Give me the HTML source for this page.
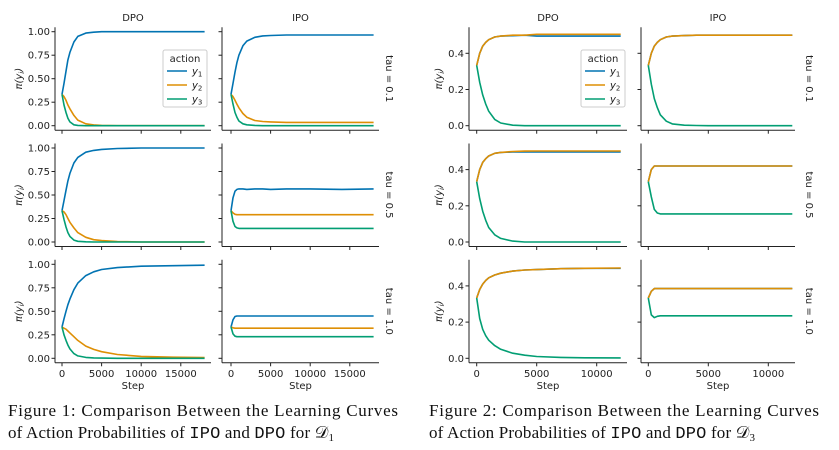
<!DOCTYPE html>
<html><head><meta charset="utf-8"><style>
body{margin:0;background:#fff;width:839px;height:450px;overflow:hidden}
svg{display:block}
text{font-family:"DejaVu Sans","Liberation Sans",sans-serif;fill:#222}
.cap{font-family:"Liberation Serif",serif;font-size:17px;fill:#111}
.mono{font-family:"Liberation Mono",monospace}
</style></head><body>
<svg id="fig" width="839" height="450" xmlns="http://www.w3.org/2000/svg">
<text class="cap" x="8" y="416" textLength="390" lengthAdjust="spacing">Figure 1:  Comparison Between the Learning Curves</text>
<text class="cap" x="8" y="438" textLength="326" lengthAdjust="spacing">of Action Probabilities of <tspan class="mono">IPO</tspan> and <tspan class="mono">DPO</tspan> for 𝒟<tspan font-size="11" dy="3">1</tspan></text>
<text class="cap" x="429" y="416" textLength="390" lengthAdjust="spacing">Figure 2:  Comparison Between the Learning Curves</text>
<text class="cap" x="429" y="438" textLength="326" lengthAdjust="spacing">of Action Probabilities of <tspan class="mono">IPO</tspan> and <tspan class="mono">DPO</tspan> for 𝒟<tspan font-size="11" dy="3">3</tspan></text>
</svg>
<script>
// ---------- data ----------
const steps1 = [0,250,500,750,1000,1500,2000,3000,4000,5000,7000,10000,14000,18000];
const steps3 = [0,250,500,750,1000,1500,2000,3000,4000,5000,7000,9000,12000];
const fig1_dpo_t01_y1=[.333,.45,.58,.70,.78,.89,.95,.985,.995,1,1,1,1,1];
const fig1_dpo_t01_y2=[.333,.31,.27,.22,.18,.11,.06,.02,.008,.003,0,0,0,0];
const fig1_dpo_t01_y3=[.333,.22,.14,.08,.04,.01,.003,0,0,0,0,0,0,0];
const fig1_ipo_t01_y1=[.333,.45,.57,.67,.75,.85,.90,.94,.955,.96,.965,.965,.965,.965];
const fig1_ipo_t01_y2=[.333,.31,.27,.23,.19,.13,.09,.055,.045,.04,.035,.035,.035,.035];
const fig1_ipo_t01_y3=[.333,.23,.14,.09,.05,.02,.01,.003,0,0,0,0,0,0];
const fig1_dpo_t05_y1=[.333,.44,.55,.65,.73,.84,.90,.955,.975,.985,.995,1,1,1];
const fig1_dpo_t05_y2=[.333,.32,.29,.25,.21,.15,.10,.05,.025,.015,.005,0,0,0];
const fig1_dpo_t05_y3=[.333,.24,.16,.10,.06,.02,.007,.002,0,0,0,0,0,0];
const fig1_ipo_t05_y1=[.333,.47,.54,.56,.565,.565,.56,.565,.565,.56,.565,.565,.56,.565];
const fig1_ipo_t05_y2=[.333,.31,.295,.29,.29,.29,.29,.29,.29,.29,.29,.29,.29,.29];
const fig1_ipo_t05_y3=[.333,.22,.165,.15,.145,.145,.145,.145,.145,.145,.145,.145,.145,.145];
const fig1_dpo_t10_y1=[.333,.42,.50,.57,.63,.73,.80,.88,.92,.945,.965,.98,.985,.99];
const fig1_dpo_t10_y2=[.333,.32,.31,.29,.27,.23,.19,.13,.095,.07,.04,.02,.012,.008];
const fig1_dpo_t10_y3=[.333,.25,.19,.14,.10,.05,.025,.01,.004,.002,0,0,0,0];
const fig1_ipo_t10_y1=[.333,.41,.445,.45,.45,.45,.45,.45,.45,.45,.45,.45,.45,.45];
const fig1_ipo_t10_y2=[.333,.325,.32,.32,.32,.32,.32,.32,.32,.32,.32,.32,.32,.32];
const fig1_ipo_t10_y3=[.333,.26,.235,.23,.23,.23,.23,.23,.23,.23,.23,.23,.23,.23];
const fig3_dpo_t01_y1=[.333,.40,.44,.46,.475,.49,.495,.497,.5,.495,.495,.495,.495];
const fig3_dpo_t01_y2=[.333,.40,.44,.46,.475,.49,.495,.5,.5,.505,.505,.505,.505];
const fig3_dpo_t01_y3=[.333,.24,.17,.12,.08,.035,.015,.003,0,0,0,0,0];
const fig3_ipo_t01_y1=[.333,.40,.44,.46,.475,.49,.495,.498,.5,.5,.5,.5,.5];
const fig3_ipo_t01_y2=[.333,.40,.44,.46,.475,.49,.495,.498,.5,.5,.5,.5,.5];
const fig3_ipo_t01_y3=[.333,.23,.15,.10,.06,.025,.01,.003,.001,0,0,0,0];
const fig3_dpo_t05_y1=[.333,.40,.44,.46,.475,.49,.495,.497,.497,.497,.497,.497,.497];
const fig3_dpo_t05_y2=[.333,.40,.44,.46,.475,.49,.495,.5,.502,.503,.503,.503,.503];
const fig3_dpo_t05_y3=[.333,.24,.17,.12,.08,.04,.02,.005,0,0,0,0,0];
const fig3_ipo_t05_y1=[.333,.40,.42,.42,.42,.42,.42,.42,.42,.42,.42,.42,.42];
const fig3_ipo_t05_y2=[.333,.40,.42,.42,.42,.42,.42,.42,.42,.42,.42,.42,.42];
const fig3_ipo_t05_y3=[.333,.25,.18,.16,.155,.155,.155,.155,.155,.155,.155,.155,.155];
const fig3_dpo_t10_y1=[.333,.38,.41,.43,.445,.46,.47,.482,.488,.49,.495,.497,.497];
const fig3_dpo_t10_y2=[.333,.38,.41,.43,.445,.46,.47,.482,.488,.49,.495,.497,.499];
const fig3_dpo_t10_y3=[.333,.22,.16,.125,.10,.07,.05,.028,.017,.01,.005,.003,.002];
const fig3_ipo_t10_y1=[.333,.37,.385,.385,.385,.385,.385,.385,.385,.385,.385,.385,.385];
const fig3_ipo_t10_y2=[.333,.37,.385,.385,.385,.385,.385,.385,.385,.385,.385,.385,.385];
const fig3_ipo_t10_y3=[.333,.24,.225,.232,.235,.235,.235,.235,.235,.235,.235,.235,.235];
const yTicks1=[0,0.25,0.5,0.75,1.0];
const yTickLabels1=["0.00","0.25","0.50","0.75","1.00"];
const yTicks3=[0,0.2,0.4];
const yTickLabels3=["0.0","0.2","0.4"];
const xTicks1=[0,5000,10000,15000];
const xTicks3=[0,5000,10000];
const tauLabels=["tau = 0.1","tau = 0.5","tau = 1.0"];
const colTitles=["DPO","IPO"];
const colors=["#0173b2","#de8f05","#029e73"];

const NS="http://www.w3.org/2000/svg";
const svg=document.getElementById('fig');
function el(tag,attrs,parent){const e=document.createElementNS(NS,tag);for(const k in attrs)e.setAttribute(k,attrs[k]);(parent||svg).appendChild(e);return e;}

const figs=[
 {id:'fig1',steps:steps1,x0s:[62,231],pxStep:39.6/5000,pxUnit:94,spL:[55,222],spR:[211,379],xTicks:xTicks1,yT:yTicks1,yL:yTickLabels1,tauX:386,ylabX:18,
  data:[[fig1_dpo_t01_y1,fig1_dpo_t01_y2,fig1_dpo_t01_y3],[fig1_ipo_t01_y1,fig1_ipo_t01_y2,fig1_ipo_t01_y3],
        [fig1_dpo_t05_y1,fig1_dpo_t05_y2,fig1_dpo_t05_y3],[fig1_ipo_t05_y1,fig1_ipo_t05_y2,fig1_ipo_t05_y3],
        [fig1_dpo_t10_y1,fig1_dpo_t10_y2,fig1_dpo_t10_y3],[fig1_ipo_t10_y1,fig1_ipo_t10_y2,fig1_ipo_t10_y3]],legX:163},
 {id:'fig3',steps:steps3,x0s:[476.7,648.3],pxStep:60/5000,pxUnit:181,spL:[469,641],spR:[627,795],xTicks:xTicks3,yT:yTicks3,yL:yTickLabels3,tauX:806,ylabX:438,
  data:[[fig3_dpo_t01_y1,fig3_dpo_t01_y2,fig3_dpo_t01_y3],[fig3_ipo_t01_y1,fig3_ipo_t01_y2,fig3_ipo_t01_y3],
        [fig3_dpo_t05_y1,fig3_dpo_t05_y2,fig3_dpo_t05_y3],[fig3_ipo_t05_y1,fig3_ipo_t05_y2,fig3_ipo_t05_y3],
        [fig3_dpo_t10_y1,fig3_dpo_t10_y2,fig3_dpo_t10_y3],[fig3_ipo_t10_y1,fig3_ipo_t10_y2,fig3_ipo_t10_y3]],legX:581}
];
const zeroYs=[125.7,242,358.3];

figs.forEach(f=>{
 for(let r=0;r<3;r++){
  const z=zeroYs[r];
  const yS=v=>z-v*f.pxUnit;
  for(let c=0;c<2;c++){
   const g=el('g',{});
   
   
   const xS=s=>f.x0s[c]+s*f.pxStep;
   const L=f.spL[c],R=f.spR[c],top=z-98.5,bot=z+4.5;
   el('line',{x1:L,y1:top,x2:L,y2:bot,stroke:'#222','stroke-width':1},g);
   el('line',{x1:L,y1:bot,x2:R,y2:bot,stroke:'#222','stroke-width':1},g);
   f.yT.forEach((t,i)=>{const y=yS(t);el('line',{x1:L-3.5,y1:y,x2:L,y2:y,stroke:'#222'},g);
     if(c===0){const tx=el('text',{x:L-5,y:y+3.5,'text-anchor':'end','font-size':10},g);tx.textContent=f.yL[i];}});
   f.xTicks.forEach(t=>{const x=xS(t);el('line',{x1:x,y1:bot,x2:x,y2:bot+3.5,stroke:'#222'},g);
     if(r===2){const tx=el('text',{x:x,y:bot+14,'text-anchor':'middle','font-size':10},g);tx.textContent=t;}});
   if(r===2){const st=el('text',{x:(L+R)/2,y:bot+26,'text-anchor':'middle','font-size':10},g);st.textContent='Step';}
   if(r===0){const tt=el('text',{x:(L+R)/2,y:21,'text-anchor':'middle','font-size':10},g);tt.textContent=colTitles[c];}
   if(c===0){const yl=el('text',{x:0,y:0,'text-anchor':'middle','font-size':10,'font-style':'italic',transform:`translate(${f.ylabX+4},${z-47}) rotate(-90)`},g);yl.textContent='π(y';const sb=el('tspan',{'font-size':7,dy:2},yl);sb.textContent='i';const cl=el('tspan',{dy:-2},yl);cl.textContent=')';}
   if(c===1){const tl=el('text',{x:0,y:0,'text-anchor':'middle','font-size':10,transform:`translate(${f.tauX},${z-47}) rotate(90)`},g);tl.textContent=tauLabels[r];}
   const series=f.data[r*2+c];
   series.forEach((vals,k)=>{
     const pts=vals.map((v,i)=>xS(f.steps[i]).toFixed(1)+','+yS(v).toFixed(1)).join(' ');
     const p=el('polyline',{points:pts,fill:'none',stroke:colors[k],'stroke-width':1.6,'stroke-linejoin':'round'},g);
     
     
   });
  }
 }
 // legend
 const lg=el('g',{});
 
 
 const lx=f.legX;
 el('rect',{x:lx,y:50,width:44,height:57,rx:2,fill:'#fff','fill-opacity':0.85,stroke:'#ccc'},lg);
 const at=el('text',{x:lx+22,y:62,'text-anchor':'middle','font-size':10},lg);at.textContent='action';
 for(let k=0;k<3;k++){
  const y=71+k*14;
  const ln=el('line',{x1:lx+4,y1:y,x2:lx+24,y2:y,stroke:colors[k],'stroke-width':1.6},lg);
  
  
  const t=el('text',{x:lx+29,y:y+3.5,'font-size':10,'font-style':'italic'},lg);t.textContent='y';
  const s=el('tspan',{'font-size':7,dy:2,'font-style':'normal'},t);s.textContent=(k+1);
 }
});
</script>
</body></html>
